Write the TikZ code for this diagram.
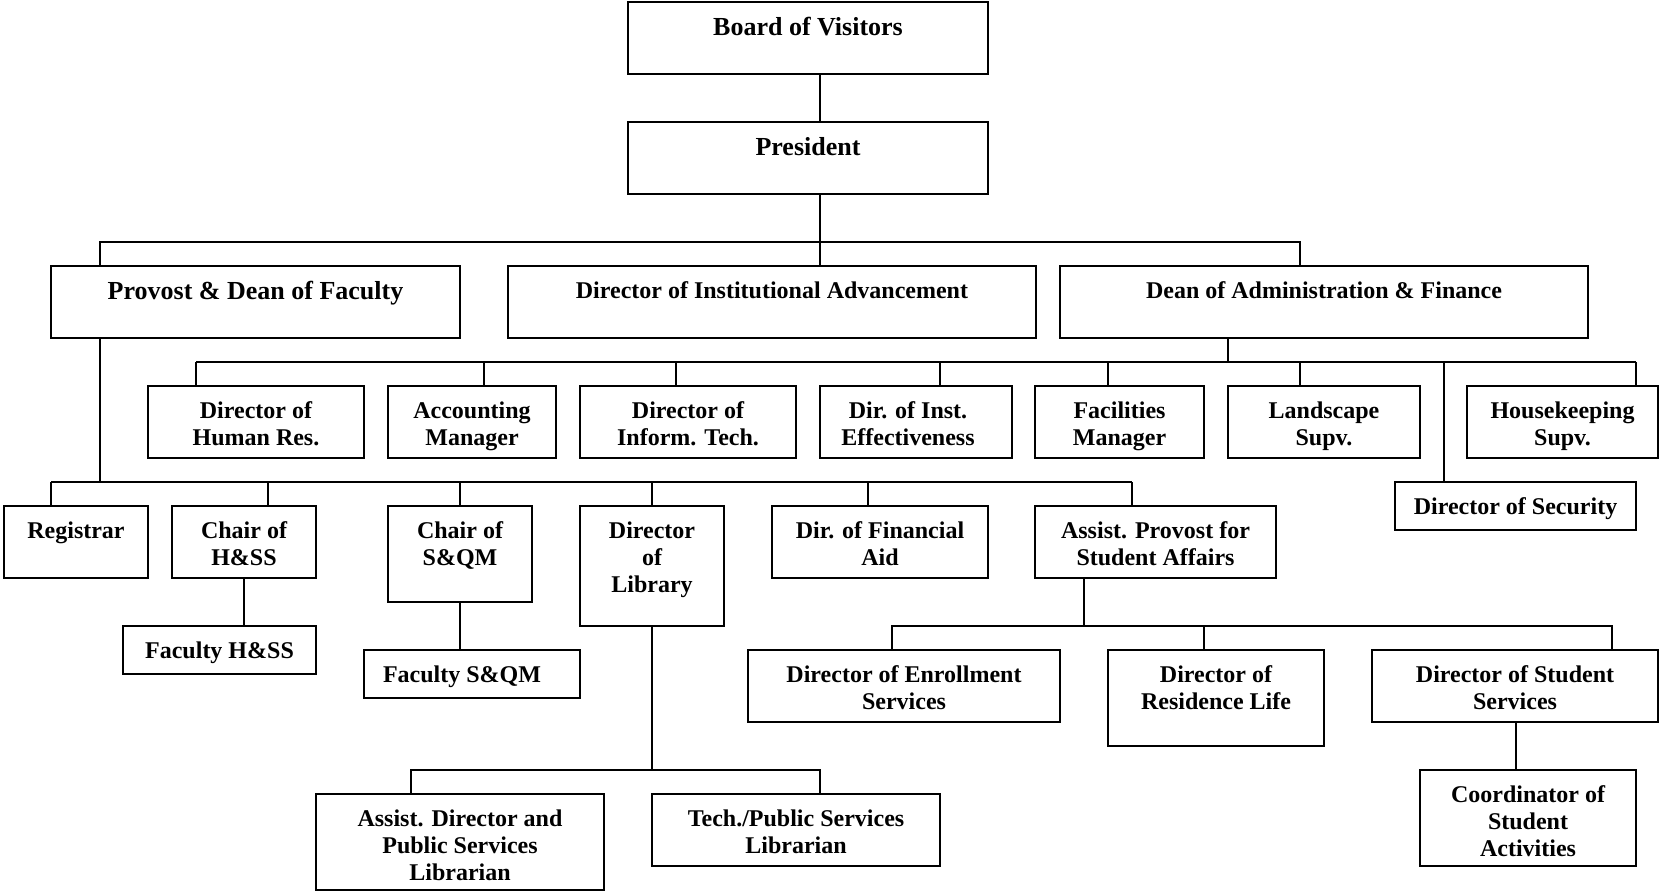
\documentclass[tikz,border=0pt]{standalone}
\usepackage{fontspec}
\setmainfont{Liberation Serif}
\usetikzlibrary{positioning, fit}

\begin{document}
\begin{tikzpicture}[
    x=0.5pt, y=-0.5pt,
    orgbox/.style={rectangle, draw, inner sep=0pt, line width=1pt},
    boxtext/.style={anchor=north, yshift=-8pt, inner sep=0pt, align=center, font=\fontsize{12}{13.5}\selectfont\bfseries},
    bigtext/.style={boxtext, font=\fontsize{13}{15}\selectfont\bfseries},
    link/.style={line width=1pt}
]
\useasboundingbox (0,0) rectangle (1660,891);

% top levels
\node[orgbox, fit={(628,2) (988,74)}, label={[bigtext]north:Board of Visitors}] (board) {};
\node[orgbox, fit={(628,122) (988,194)}, label={[bigtext]north:President}] (pres) {};
\node[orgbox, fit={(51,266) (460,338)}, label={[bigtext]north:Provost \& Dean of Faculty}] (prov) {};
\node[orgbox, fit={(508,266) (1036,338)}, label={[boxtext]north:Director of Institutional Advancement}] (dia) {};
\node[orgbox, fit={(1060,266) (1588,338)}, label={[boxtext]north:Dean of Administration \& Finance}] (adf) {};

% administration & finance
\node[orgbox, fit={(148,386) (364,458)}, label={[boxtext]north:Director of\\Human Res.}] (hr) {};
\node[orgbox, fit={(388,386) (556,458)}, label={[boxtext]north:Accounting\\Manager}] (acct) {};
\node[orgbox, fit={(580,386) (796,458)}, label={[boxtext]north:Director of\\Inform. Tech.}] (it) {};
\node[orgbox, fit={(820,386) (1012,458)}, label={[boxtext, xshift=-4pt]north:Dir. of Inst.\\Effectiveness}] (ie) {};
\node[orgbox, fit={(1035,386) (1204,458)}, label={[boxtext]north:Facilities\\Manager}] (fac) {};
\node[orgbox, fit={(1228,386) (1420,458)}, label={[boxtext]north:Landscape\\Supv.}] (land) {};
\node[orgbox, fit={(1467,386) (1658,458)}, label={[boxtext]north:Housekeeping\\Supv.}] (house) {};
\node[orgbox, fit={(1395,482) (1636,530)}, label={[boxtext]north:Director of Security}] (sec) {};

% provost
\node[orgbox, fit={(4,506) (148,578)}, label={[boxtext]north:Registrar}] (reg) {};
\node[orgbox, fit={(172,506) (316,578)}, label={[boxtext]north:Chair of\\H\&SS}] (hss) {};
\node[orgbox, fit={(388,506) (532,602)}, label={[boxtext]north:Chair of\\S\&QM}] (sqm) {};
\node[orgbox, fit={(580,506) (724,626)}, label={[boxtext]north:Director\\of\\Library}] (lib) {};
\node[orgbox, fit={(772,506) (988,578)}, label={[boxtext]north:Dir. of Financial\\Aid}] (fin) {};
\node[orgbox, fit={(1035,506) (1276,578)}, label={[boxtext]north:Assist. Provost for\\Student Affairs}] (asp) {};
\node[orgbox, fit={(123,626) (316,674)}, label={[boxtext]north:Faculty H\&SS}] (fhss) {};
\node[orgbox, fit={(364,650) (580,698)}, label={[boxtext, xshift=-5pt]north:Faculty S\&QM}] (fsqm) {};
\node[orgbox, fit={(316,794) (604,890)}, label={[boxtext]north:Assist. Director and\\Public Services\\Librarian}] (adl) {};
\node[orgbox, fit={(652,794) (940,866)}, label={[boxtext]north:Tech./Public Services\\Librarian}] (tpl) {};

% student affairs
\node[orgbox, fit={(748,650) (1060,722)}, label={[boxtext]north:Director of Enrollment\\Services}] (enr) {};
\node[orgbox, fit={(1108,650) (1324,746)}, label={[boxtext]north:Director of\\Residence Life}] (res) {};
\node[orgbox, fit={(1372,650) (1658,722)}, label={[boxtext]north:Director of Student\\Services}] (dss) {};
\node[orgbox, fit={(1420,770) (1636,866)}, label={[boxtext]north:Coordinator of\\Student\\Activities}] (coord) {};

% bus lines
\coordinate (busA) at (0,242);
\coordinate (busB) at (0,362);
\coordinate (busC) at (0,482);
\coordinate (busD) at (0,770);
\coordinate (busE) at (0,626);

\draw[link] (820,0 |- board.south) -- (820,0 |- pres.north);
\draw[link] (820,0 |- pres.south) -- (820,0 |- dia.north);
\draw[link] (99.5,0 |- prov.north) |- (1300,0 |- busA) -- (1300,0 |- adf.north);

\draw[link] (1228,0 |- adf.south) -- (1228,0 |- busB);
\draw[link] (196,0 |- busB) -- (1636,0 |- busB);
\foreach \n/\x in {hr/196, acct/484, it/676, ie/940, fac/1108, land/1300, house/1636, sec/1444}
  \draw[link] (\x,0 |- busB) -- (\x,0 |- \n.north);

\draw[link] (99.5,0 |- prov.south) -- (99.5,0 |- busC);
\draw[link] (51,0 |- busC) -- (1132,0 |- busC);
\foreach \n/\x in {reg/51, hss/268, sqm/460, lib/652, fin/868, asp/1132}
  \draw[link] (\x,0 |- busC) -- (\x,0 |- \n.north);

\draw[link] (244,0 |- hss.south) -- (244,0 |- fhss.north);
\draw[link] (460,0 |- sqm.south) -- (460,0 |- fsqm.north);

\draw[link] (652,0 |- lib.south) -- (652,0 |- busD);
\draw[link] (411,0 |- adl.north) |- (820,0 |- busD) -- (820,0 |- tpl.north);

\draw[link] (1084,0 |- asp.south) -- (1084,0 |- busE);
\draw[link] (892,0 |- enr.north) |- (1612,0 |- busE) -- (1612,0 |- dss.north);
\draw[link] (1204,0 |- busE) -- (1204,0 |- res.north);
\draw[link] (1516,0 |- dss.south) -- (1516,0 |- coord.north);
\end{tikzpicture}
\end{document}
